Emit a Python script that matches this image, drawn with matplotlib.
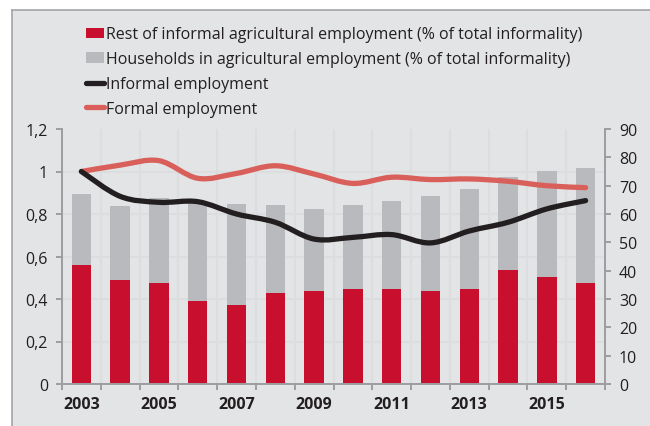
import matplotlib
matplotlib.use('Agg')
import matplotlib.pyplot as plt
import numpy as np
from matplotlib.path import Path
from matplotlib.patches import PathPatch, Rectangle
from matplotlib.lines import Line2D
from matplotlib.ticker import FuncFormatter

years = list(range(2003, 2017))
rest_informal = [42.0, 36.7, 35.5, 29.2, 28.0, 32.0, 32.7, 33.4, 33.6, 32.9, 33.6, 40.2, 37.6, 35.8]
households_total = [66.9, 62.9, 65.5, 64.1, 63.5, 63.2, 61.9, 63.1, 64.7, 66.4, 68.9, 73.2, 75.3, 76.4]
informal_emp = [1.0, 0.883, 0.855, 0.858, 0.80, 0.761, 0.682, 0.69, 0.703, 0.664, 0.72, 0.761, 0.824, 0.863]
formal_emp = [1.0, 1.03, 1.051, 0.968, 0.991, 1.027, 0.988, 0.944, 0.973, 0.962, 0.965, 0.954, 0.933, 0.924]
households = [t - r for t, r in zip(households_total, rest_informal)]

RED = '#c8102e'
GREY_BAR = '#b9babd'
BLACK = '#231f20'
SALMON = '#d9605a'
PANEL = '#e3e4e6'
AXIS_GREY = '#9d9ea1'
TEXT = '#231f20'
FONT = 'Open Sans'

plt.rcParams['font.family'] = [FONT, 'DejaVu Sans']


def smooth_path(xs, ys, tension=1/6):
    # Bezier curve through the points, Catmull-Rom style control points
    xs = np.asarray(xs, float); ys = np.asarray(ys, float)
    verts = [(xs[0], ys[0])]
    codes = [Path.MOVETO]
    n = len(xs)
    for i in range(n - 1):
        p0 = np.array([xs[max(i - 1, 0)], ys[max(i - 1, 0)]])
        p1 = np.array([xs[i], ys[i]])
        p2 = np.array([xs[i + 1], ys[i + 1]])
        p3 = np.array([xs[min(i + 2, n - 1)], ys[min(i + 2, n - 1)]])
        c1 = p1 + (p2 - p0) * tension
        c2 = p2 - (p3 - p1) * tension
        verts += [tuple(c1), tuple(c2), tuple(p2)]
        codes += [Path.CURVE4] * 3
    return Path(verts, codes)


fig = plt.figure(figsize=(6.5, 4.27), dpi=100)
fig.patch.set_facecolor('white')
# grey panel behind everything, with a border on top and left
fig.patches.append(Rectangle((12 / 650, 0), 1, 1 - 10.5 / 427, transform=fig.transFigure,
                             facecolor=PANEL, edgecolor='none', zorder=0))
fig.add_artist(Line2D([12 / 650, 1], [1 - 10.5 / 427] * 2, transform=fig.transFigure,
                      color='#a3a4a7', lw=1.2))
fig.add_artist(Line2D([12 / 650] * 2, [0, 1 - 10.5 / 427], transform=fig.transFigure,
                      color='#a3a4a7', lw=1.2))

ax = fig.add_axes([62 / 650, 1 - 385 / 427, (605 - 62) / 650, (385 - 130) / 427])
ax2 = ax.twinx()
ax.set_zorder(2); ax2.set_zorder(1)
ax.patch.set_visible(False)
ax2.patch.set_facecolor('white')

x = np.arange(len(years))
ax2.bar(x, rest_informal, width=0.5, color=RED, zorder=3)
ax2.bar(x, households, width=0.5, bottom=rest_informal, color=GREY_BAR, zorder=3)
ax2.set_ylim(0, 90)
ax2.set_yticks(range(0, 91, 10))

ax.add_patch(PathPatch(smooth_path(x, formal_emp), facecolor='none', edgecolor=SALMON,
                       lw=3.8, capstyle='round', zorder=4))
ax.add_patch(PathPatch(smooth_path(x, informal_emp), facecolor='none', edgecolor=BLACK,
                       lw=3.8, capstyle='round', zorder=5))
ax.set_ylim(0, 1.2)
ax.set_xlim(-0.5, len(years) - 0.5)
ax.set_yticks(np.arange(0, 1.21, 0.2))
ax.yaxis.set_major_formatter(FuncFormatter(lambda v, p: ('%g' % round(v, 1)).replace('.', ',')))

# gridlines drawn on the lower axes so they sit behind the bars
for yv in np.arange(0.2, 1.1, 0.2):
    ax2.axhline(yv * 75, color='#dcdddf', lw=1.6, zorder=1)
for xv in np.arange(0.5, len(years) - 0.5, 1):
    ax2.axvline(xv, color='#dcdddf', lw=1.6, zorder=1)

ax.set_xticks(np.arange(-0.5, len(years), 1))
ax.set_xticklabels([])
ax.set_xticks(x[::2], minor=True)
ax.set_xticklabels([str(y) for y in years[::2]], minor=True, fontweight='bold',
                   fontsize=11.5, color=TEXT)
ax.tick_params(axis='x', which='minor', length=0, pad=9)
ax.tick_params(axis='x', which='major', length=4, width=1.4, color=AXIS_GREY)
ax.tick_params(axis='y', length=4, width=1.4, color=AXIS_GREY, labelsize=11.5,
               labelcolor=TEXT, pad=6)
ax2.tick_params(axis='y', length=4, width=1.4, color=AXIS_GREY, labelsize=11.5,
                labelcolor=TEXT, pad=6)

for a in (ax, ax2):
    a.spines['top'].set_visible(False)
    for s in ('left', 'right', 'bottom'):
        a.spines[s].set_color(AXIS_GREY)
        a.spines[s].set_linewidth(1.4)

handles = [
    Rectangle((0, 0), 1, 1, facecolor=RED),
    Rectangle((0, 0), 1, 1, facecolor=GREY_BAR),
    Line2D([], [], color=BLACK, lw=3.8, solid_capstyle='round'),
    Line2D([], [], color=SALMON, lw=3.8, solid_capstyle='round'),
]
labels = [
    'Rest of informal agricultural employment (% of total informality)',
    'Households in agricultural employment (% of total informality)',
    'Informal employment',
    'Formal employment',
]
fig.legend(handles, labels, loc='upper left', bbox_to_anchor=(71.5 / 650, 1 - 13 / 427),
           frameon=False, fontsize=11.5, handlelength=1.15, handleheight=0.6,
           handletextpad=0.12, labelspacing=0.55, labelcolor=TEXT)

fig.savefig('out.png', dpi=100)
